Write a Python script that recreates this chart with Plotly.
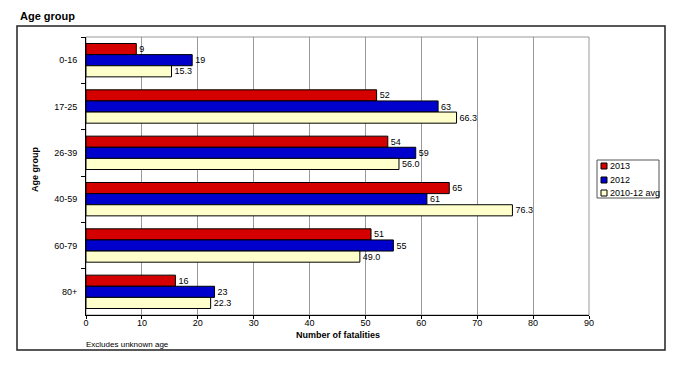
import plotly.graph_objects as go

categories = ["0-16", "17-25", "26-39", "40-59", "60-79", "80+"]
y2013 = [9, 52, 54, 65, 51, 16]
y2012 = [19, 63, 59, 61, 55, 23]
avg_2010_12 = [15.3, 66.3, 56.0, 76.3, 49.0, 22.3]
x_ticks = [0, 10, 20, 30, 40, 50, 60, 70, 80, 90]
series_names = ["2013", "2012", "2010-12 avg"]
series_colors = ["#D40000", "#0000CC", "#FFFFCC"]

FONT = "Liberation Sans, Arial, sans-serif"
L, R, T, B, W, H = 86, 102, 37, 50, 691, 365
PW, PH = W - L - R, H - T - B


def px(x):
    return (x - L) / PW


def py(y):
    return (H - B - y) / PH


fig = go.Figure()
series_vals = [y2013, y2012, avg_2010_12]
series_text = [[str(v) for v in y2013], [str(v) for v in y2012], [f"{v:.1f}" for v in avg_2010_12]]
for name, vals, col, txt in zip(series_names, series_vals, series_colors, series_text):
    fig.add_trace(go.Bar(
        y=categories, x=vals, name=name, orientation="h",
        marker=dict(color=col, line=dict(color="black", width=1)),
        text=txt, textposition="outside", cliponaxis=False,
        textfont=dict(size=9, color="black", family=FONT),
    ))

shapes = [
    dict(type="rect", xref="paper", yref="paper", x0=0, x1=1, y0=0, y1=1,
         line=dict(color="#999999", width=1), layer="below"),
    dict(type="rect", xref="paper", yref="paper", x0=px(17), x1=px(665), y0=py(350), y1=py(26),
         line=dict(color="#222222", width=1.5)),
    dict(type="rect", xref="paper", yref="paper", x0=px(597), x1=px(659), y0=py(198), y1=py(160),
         line=dict(color="#555555", width=1), fillcolor="white"),
]
annotations = [
    dict(text="<b>Age group</b>", xref="paper", yref="paper", x=px(18), y=py(24),
         xanchor="left", yanchor="bottom", showarrow=False, font=dict(size=11)),
    dict(text="Excludes unknown age", xref="paper", yref="paper", x=px(84), y=py(338),
         xanchor="left", yanchor="top", showarrow=False, font=dict(size=8)),
    dict(text="<b>Age group</b>", xref="paper", yref="paper", x=px(35), y=py(170),
         xanchor="center", yanchor="middle", textangle=-90, showarrow=False, font=dict(size=9)),
    dict(text="<b>Number of fatalities</b>", xref="paper", yref="paper", x=px(338), y=py(335),
         xanchor="center", yanchor="middle", showarrow=False, font=dict(size=9)),
]
row_y = [166, 180, 193]
for name, col, ry in zip(series_names, series_colors, row_y):
    shapes.append(dict(type="rect", xref="paper", yref="paper", x0=px(601), x1=px(607),
                       y0=py(ry + 3), y1=py(ry - 3), line=dict(color="black", width=1), fillcolor=col))
    annotations.append(dict(text=name, xref="paper", yref="paper", x=px(608), y=py(ry),
                            xanchor="left", yanchor="middle", showarrow=False, font=dict(size=9)))

fig.update_layout(
    width=W, height=H,
    margin=dict(l=L, r=R, t=T, b=B, autoexpand=False),
    paper_bgcolor="white", plot_bgcolor="white",
    barmode="group", bargap=0.28, bargroupgap=0,
    font=dict(family=FONT, size=9, color="black"),
    showlegend=False,
    xaxis=dict(range=[0, 90], tickvals=x_ticks, showgrid=True, gridcolor="#999999",
               gridwidth=1, showline=True, linecolor="black", linewidth=1,
               ticks="outside", ticklen=3, tickcolor="black", zeroline=False,
               tickfont=dict(size=9), automargin=False, ticklabelstandoff=-4),
    yaxis=dict(autorange="reversed", showline=True, linecolor="black", linewidth=1,
               ticks="outside", tickson="boundaries", ticklen=4, tickcolor="black",
               showgrid=False, tickfont=dict(size=9), automargin=False, ticklabelstandoff=6),
    shapes=shapes,
    annotations=annotations,
)
fig.write_html("out.html", config={"displayModeBar": False},
               post_script="document.body.style.margin='0';")
